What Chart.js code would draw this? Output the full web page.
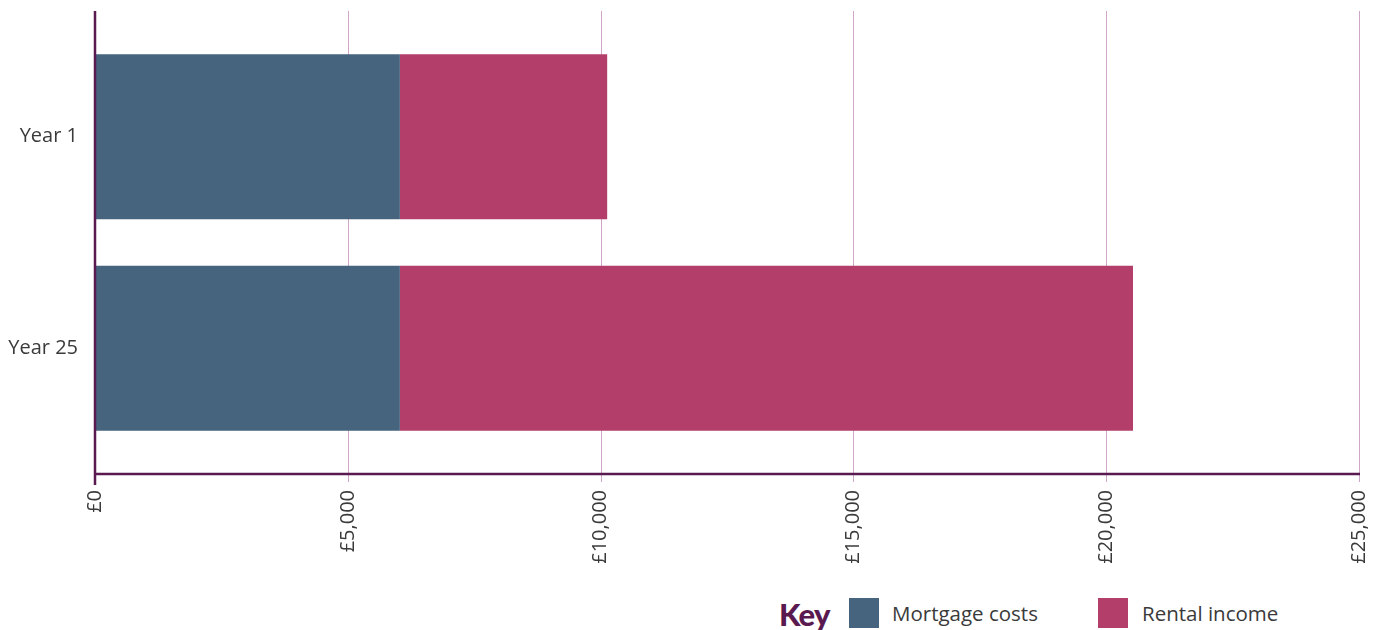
<!DOCTYPE html>
<html>
<head>
<meta charset="utf-8">
<script src="https://cdn.jsdelivr.net/npm/chart.js@4"></script>
<style>
  html, body { margin: 0; padding: 0; background: #fff; }
  #wrap { position: relative; width: 1383px; height: 630px; }
  #box { position: absolute; left: 0; top: 0; width: 1383px; height: 590px; }
  #key { position: absolute; left: 0; top: 598px; width: 1383px; height: 30px;
         font-family: "Open Sans", Lato, sans-serif; color: #3a3a3a; font-size: 20.5px; }
  #key > * { position: absolute; top: 0; line-height: 30px; }
  #key b { color: #5a1a50; font-family: Lato, sans-serif; font-size: 31px; font-weight: 900; letter-spacing: -0.8px; top: 1px; }
  #key i { width: 30px; height: 30px; }
</style>
</head>
<body>
<div id="wrap">
  <div id="box"><canvas id="c"></canvas></div>
  <div id="key"></div>
</div>
<script>
// data
const categories = ['Year 1', 'Year 25'];
const mortgageCosts = [6030, 6030];
const rentalIncome = [4100, 14500];
const seriesNames = ['Mortgage costs', 'Rental income'];
const xTicks = [0, 5000, 10000, 15000, 20000, 25000];

const COL = {
  mortgage: '#46647e',
  rental: '#b23e69',
  axis: '#5a1a50',
  grid: '#cfa6c8',
  text: '#3a3a3a',
};
const FONT = '"Open Sans", Lato, sans-serif';

// legend ("Key") below the chart
document.getElementById('key').innerHTML =
  '<b style="left:779px">Key</b>' +
  `<i style="left:849px;background:${COL.mortgage}"></i><span style="left:892px">${seriesNames[0]}</span>` +
  `<i style="left:1098px;background:${COL.rental}"></i><span style="left:1142px">${seriesNames[1]}</span>`;

// grid + axis lines reach a bit past the plot area, like the original
const axisLines = {
  id: 'axisLines',
  beforeDatasetsDraw(chart) {
    const { ctx, scales: { x } } = chart;
    const top = 11, bottom = 474;
    ctx.save();
    ctx.strokeStyle = COL.grid;
    ctx.lineWidth = 1;
    xTicks.slice(1).forEach(v => {
      const px = Math.round(x.getPixelForValue(v)) + 0.5;
      ctx.beginPath();
      ctx.moveTo(px, top);
      ctx.lineTo(px, bottom + 8);
      ctx.stroke();
    });
    ctx.restore();
  },
  afterDatasetsDraw(chart) {
    const { ctx, scales: { x } } = chart;
    const top = 11, bottom = 474;
    const x0 = x.getPixelForValue(0);
    const x1 = x.getPixelForValue(xTicks[xTicks.length - 1]);
    ctx.save();
    ctx.strokeStyle = COL.axis;
    ctx.lineWidth = 2.5;
    ctx.beginPath();
    ctx.moveTo(x0, top);
    ctx.lineTo(x0, bottom + 11);
    ctx.moveTo(x0, bottom);
    ctx.lineTo(x1 + 1, bottom);
    ctx.stroke();
    ctx.restore();
  },
};

new Chart(document.getElementById('c'), {
  type: 'bar',
  data: {
    labels: categories,
    datasets: [
      { label: seriesNames[0], data: mortgageCosts, backgroundColor: COL.mortgage },
      { label: seriesNames[1], data: rentalIncome, backgroundColor: COL.rental },
    ],
  },
  options: {
    indexAxis: 'y',
    responsive: true,
    maintainAspectRatio: false,
    animation: false,
    categoryPercentage: 1,
    barPercentage: 0.78,
    layout: { padding: { top: 31, right: 24, left: 0, bottom: 0 } },
    scales: {
      x: {
        stacked: true,
        min: 0,
        max: 25000,
        grid: { display: false, drawTicks: false },
        border: { display: false },
        afterBuildTicks: s => { s.ticks = xTicks.map(v => ({ value: v })); },
        afterFit: s => { s.height = 136; s.paddingLeft = 0; s.paddingRight = 0; },
        ticks: {
          minRotation: 90,
          maxRotation: 90,
          padding: 36,
          color: COL.text,
          font: { family: FONT, size: 20 },
          callback: v => '£' + Number(v).toLocaleString('en-GB'),
        },
      },
      y: {
        stacked: true,
        grid: { display: false, drawTicks: false },
        border: { display: false },
        afterFit: s => { s.width = 95; },
        ticks: {
          padding: 17,
          color: COL.text,
          font: { family: FONT, size: 20 },
        },
      },
    },
    plugins: {
      legend: { display: false },
      tooltip: { enabled: false },
    },
  },
  plugins: [axisLines],
});
</script>
</body>
</html>
